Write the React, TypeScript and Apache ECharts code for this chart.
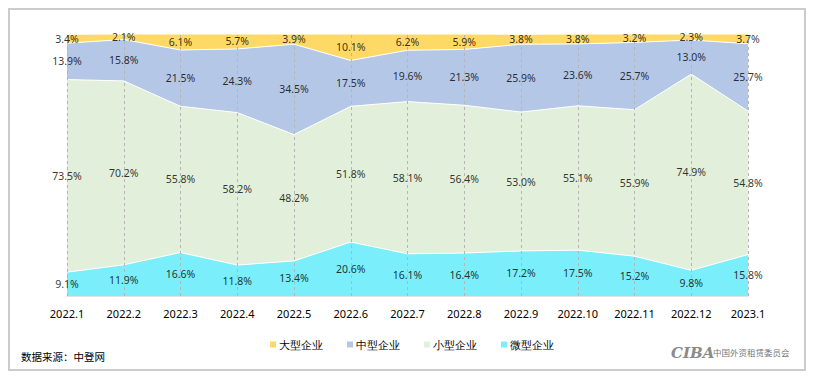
import React, { useEffect, useRef } from "react";
import * as echarts from "echarts";

const categories = ["2022.1","2022.2","2022.3","2022.4","2022.5","2022.6","2022.7","2022.8","2022.9","2022.10","2022.11","2022.12","2023.1"];
const large = [3.4,2.1,6.1,5.7,3.9,10.1,6.2,5.9,3.8,3.8,3.2,2.3,3.7];
const medium = [13.9,15.8,21.5,24.3,34.5,17.5,19.6,21.3,25.9,23.6,25.7,13.0,25.7];
const small = [73.5,70.2,55.8,58.2,48.2,51.8,58.1,56.4,53.0,55.1,55.9,74.9,54.8];
const micro = [9.1,11.9,16.6,11.8,13.4,20.6,16.1,16.4,17.2,17.5,15.2,9.8,15.8];
const seriesNames = ["大型企业","中型企业","小型企业","微型企业"];
const colors = ["#FFD966","#B4C7E7","#E2EFDA","#7AEEFA"];

export default function App() {
  const ref = useRef<HTMLDivElement>(null);
  useEffect(() => {
    const chart = echarts.init(ref.current!, null, { renderer: "svg" });
    const bottomUp = [micro, small, medium, large];
    const bottomUpNames = ["微型企业","小型企业","中型企业","大型企业"];
    const bottomUpColors = [colors[3], colors[2], colors[1], colors[0]];
    const areaSeries: any[] = bottomUp.map((arr, k) => ({
      name: bottomUpNames[k],
      type: "line",
      stack: "total",
      data: arr,
      symbol: "none",
      lineStyle: { color: "#ffffff", width: 1 },
      itemStyle: { color: bottomUpColors[k] },
      areaStyle: { color: bottomUpColors[k], opacity: 1 },
      z: 2,
    }));
    const labelSeries: any[] = bottomUp.map((arr, k) => ({
      name: "label" + k,
      type: "scatter",
      symbolSize: 0,
      silent: true,
      z: 5,
      data: arr.map((v, i) => {
        let base = 0;
        for (let j = 0; j < k; j++) base += bottomUp[j][i];
        return [i, base + v / 2, v];
      }),
      label: {
        show: true,
        position: "inside",
        color: "#000000",
        fontSize: 10.5,
        fontFamily: "Noto Sans",
        formatter: (p: any) => p.value[2].toFixed(1) + "%",
      },
    }));
    labelSeries[0].markLine = {
      silent: true,
      symbol: "none",
      label: { show: false },
      lineStyle: { color: "#b5b5b5", type: [3, 3], width: 1 },
      data: categories.map((c) => ({ xAxis: c })),
    };
    chart.setOption({
      animation: false,
      backgroundColor: "#ffffff",
      textStyle: { fontFamily: "Noto Sans" },
      grid: { left: 57, right: 56, top: 24, bottom: 73 },
      legend: {
        data: seriesNames.map((n, k) => ({ name: n, itemStyle: { color: colors[k] } })),
        left: 255,
        top: 324,
        icon: "rect",
        itemWidth: 6,
        itemHeight: 6,
        itemGap: 24,
        textStyle: { fontSize: 10.5, color: "#000000", padding: [0, 0, 0, -2] },
      },
      xAxis: {
        type: "category",
        data: categories,
        boundaryGap: false,
        axisLine: { show: true, lineStyle: { color: "#d9d9d9", width: 1.5 } },
        axisTick: { show: false },
        axisLabel: { color: "#000000", fontSize: 11, fontWeight: "normal", margin: 12 },
        splitLine: { show: false },
      },
      yAxis: {
        type: "value",
        min: 0,
        max: 100,
        show: false,
        splitLine: { show: false },
      },
      graphic: [
        { type: "text", left: 11, top: 341, style: { text: "数据来源：中登网", fontSize: 10.5, fill: "#000000", fontFamily: "Noto Sans CJK SC" } },
        { type: "text", left: 661, top: 335, style: { text: "CIBA", fontSize: 15, fontWeight: 900, fontStyle: "italic", fill: "#8a8a8a", fontFamily: "DejaVu Serif" } },
        { type: "text", left: 703, top: 338, style: { text: "中国外资租赁委员会", fontSize: 8.5, fill: "#777777", fontFamily: "Noto Sans CJK SC" } },
      ],
      series: [...areaSeries, ...labelSeries],
    });
    return () => chart.dispose();
  }, []);
  return (
    <div style={{ width: 794, height: 359, border: "2px solid #cccccc" }}>
      <div ref={ref} style={{ width: 794, height: 359 }} />
    </div>
  );
}
